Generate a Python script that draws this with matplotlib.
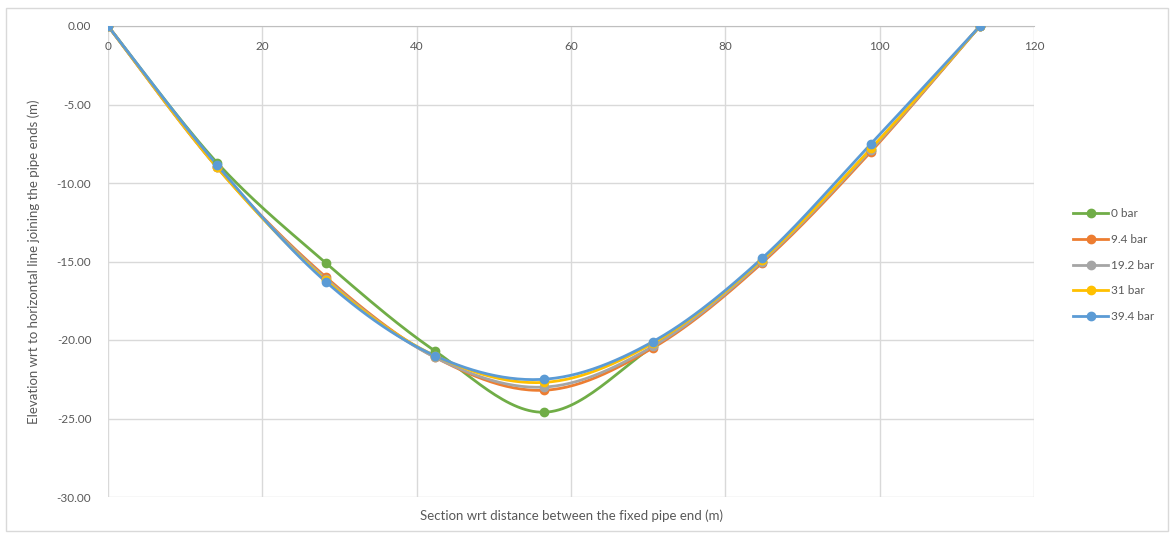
import numpy as np
import matplotlib.pyplot as plt
from matplotlib.patches import Rectangle

# section positions (m) and elevations (m) per pressure
sections = [0, 14.125, 28.25, 42.375, 56.5, 70.625, 84.75, 98.875, 113]
series_names = ["0 bar", "9.4 bar", "19.2 bar", "31 bar", "39.4 bar"]
elev_0 = [0, -8.7, -15.1, -20.7, -24.6, -20.4, -15.0, -7.9, 0]
elev_94 = [0, -9.0, -16.0, -21.1, -23.2, -20.5, -15.1, -8.0, 0]
elev_192 = [0, -9.0, -16.1, -21.1, -23.0, -20.4, -15.0, -7.9, 0]
elev_31 = [0, -9.0, -16.2, -21.0, -22.7, -20.2, -14.9, -7.8, 0]
elev_394 = [0, -8.85, -16.3, -21.0, -22.5, -20.1, -14.8, -7.5, 0]
colors = ["#70AD47", "#ED7D31", "#A5A5A5", "#FFC000", "#5B9BD5"]

GREY = "#595959"


def smooth(xs, ys, n=30):
    # Excel-style smoothed line: cubic bezier through the points
    p = np.column_stack([xs, ys]).astype(float)
    out = []
    for i in range(len(p) - 1):
        p0 = p[i - 1] if i > 0 else p[i]
        p3 = p[i + 2] if i + 2 < len(p) else p[i + 1]
        c1 = p[i] + (p[i + 1] - p0) / 6
        c2 = p[i + 1] - (p3 - p[i]) / 6
        t = np.linspace(0, 1, n)[:, None]
        seg = ((1 - t) ** 3 * p[i] + 3 * (1 - t) ** 2 * t * c1
               + 3 * (1 - t) * t ** 2 * c2 + t ** 3 * p[i + 1])
        out.append(seg if i == 0 else seg[1:])
    out = np.vstack(out)
    return out[:, 0], out[:, 1]


plt.rcParams['font.family'] = ['Lato', 'DejaVu Sans']

fig = plt.figure(figsize=(11.75, 5.39), dpi=100)
ax = fig.add_axes([108 / 1175, 1 - 497 / 539, (1034 - 108) / 1175, (497 - 26) / 539])

for name, ys, c in zip(series_names, [elev_0, elev_94, elev_192, elev_31, elev_394], colors):
    sx, sy = smooth(sections, ys)
    ax.plot(sx, sy, color=c, lw=2, solid_capstyle='round', zorder=3)
    ax.plot(sections, ys, 'o', color=c, ms=6, zorder=4)
    ax.plot([], [], color=c, lw=2, marker='o', ms=6, label=name)

ax.set_xlim(0, 120)
ax.set_ylim(-30, 0)
ax.set_xticks(range(0, 121, 20))
ax.set_yticks(range(-30, 1, 5))
ax.set_yticklabels(["%.2f" % v for v in range(-30, 1, 5)])
ax.grid(True, color="#D9D9D9", lw=1)
ax.set_axisbelow(True)
for s in ["left", "right", "bottom"]:
    ax.spines[s].set_visible(False)
ax.spines["top"].set_color("#BFBFBF")
ax.tick_params(axis='x', top=True, labeltop=True, bottom=False, labelbottom=False,
               direction='in', length=0, pad=-19, labelsize=8.5, labelcolor=GREY)
ax.tick_params(axis='y', length=0, pad=12, labelsize=8.5, labelcolor=GREY)

ax.set_xlabel("Section wrt distance between the fixed pipe end (m)", fontsize=9.5, color=GREY, labelpad=9)
ax.set_ylabel("Elevation wrt to horizontal line joining the pipe ends (m)", fontsize=9.5, color=GREY, labelpad=12)

leg = fig.legend(loc='center left', bbox_to_anchor=(0.904, 0.508), frameon=False,
                 fontsize=8.5, handlelength=3.0, labelspacing=1.25, handletextpad=0.2)
for t in leg.get_texts():
    t.set_color(GREY)

fig.patches.append(Rectangle((6 / 1175, 1 - 531 / 539), 1162 / 1175, 523 / 539,
                             transform=fig.transFigure, fill=False, ec="#D9D9D9", lw=1))

fig.savefig("out.png", dpi=100)
